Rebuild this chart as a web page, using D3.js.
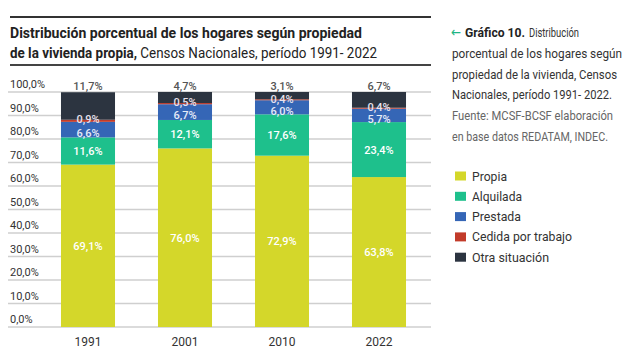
<!DOCTYPE html>
<html><head><meta charset="utf-8">
<script src="https://cdn.jsdelivr.net/npm/d3@7"></script>
<style>body{margin:0;background:#fff}svg{display:block}text{font-family:Roboto,"Noto Sans",sans-serif}</style>
</head><body><svg id="c" width="642" height="361"></svg>
<script>
const years = ["1991","2001","2010","2022"];
const seriesNames = ["Propia","Alquilada","Prestada","Cedida por trabajo","Otra situación"];
const propia = [69.1,76.0,72.9,63.8];
const alquilada = [11.6,12.1,17.6,23.4];
const prestada = [6.6,6.7,6.0,5.7];
const cedida = [0.9,0.5,0.4,0.4];
const otra = [11.7,4.7,3.1,6.7];
const yTicks = [0,10,20,30,40,50,60,70,80,90,100];
const colors = ["#d4d72a","#1ec08c","#3566b6","#c23b2a","#2c3440"];

const svg = d3.select("#c");
const x = d3.scaleBand().domain(years).range([39.5,427.5]).paddingInner(0.443).paddingOuter(0.2215);
const y = d3.scaleLinear().domain([0,100]).range([327,92]);
const fmt = v => d3.format(".1f")(v).replace(".",",") + "%";

// rules
svg.append("line").attr("x1",10).attr("x2",431).attr("y1",17).attr("y2",17).attr("stroke","#333").attr("stroke-width",2);
svg.append("line").attr("x1",10).attr("x2",431).attr("y1",65).attr("y2",65).attr("stroke","#444").attr("stroke-width",2);

// title
svg.append("text").attr("x",10).attr("y",38).attr("font-size",14).attr("font-weight",700).attr("fill","#222")
  .attr("textLength",352).attr("lengthAdjust","spacingAndGlyphs").text("Distribución porcentual de los hogares según propiedad");
const t2 = svg.append("text").attr("x",10).attr("y",58).attr("font-size",14).attr("fill","#222")
  .attr("textLength",367).attr("lengthAdjust","spacingAndGlyphs");
t2.append("tspan").attr("font-weight",700).text("de la vivienda propia,");
t2.append("tspan").text(" Censos Nacionales, período 1991- 2022");

// gridlines + y labels
const g = svg.append("g");
g.selectAll("line.grid").data(yTicks).join("line").attr("class","grid")
  .attr("x1",8).attr("x2",431).attr("y1",d=>y(d)).attr("y2",d=>y(d))
  .attr("stroke","#cfcfcf").attr("stroke-width",1.5);
g.selectAll("text.yl").data(yTicks).join("text").attr("class","yl")
  .attr("x",10).attr("y",d=>y(d)-4).attr("font-size",11).attr("fill","#333")
  .text(d=>d3.format(".1f")(d).replace(".",",")+"%");

// stacked data
const table = years.map((yr,i)=>({year:yr, s0:propia[i], s1:alquilada[i], s2:prestada[i], s3:cedida[i], s4:otra[i]}));
const keys = ["s0","s1","s2","s3","s4"];
const stack = d3.stack().keys(keys)(table);

svg.append("g").selectAll("g").data(stack).join("g").attr("fill",(d,i)=>colors[i])
  .selectAll("rect").data(d=>d).join("rect")
  .attr("x",d=>x(d.data.year)).attr("width",x.bandwidth())
  .attr("y",d=>y(Math.min(d[1],100))).attr("height",d=>y(d[0])-y(Math.min(d[1],100)));

// labels
const lab = svg.append("g").attr("text-anchor","middle").attr("font-size",11).attr("font-weight",500);
years.forEach((yr,i)=>{
  const cx = x(yr)+x.bandwidth()/2;
  const s = k => stack[k][i];
  const cTop = y(100)-6;
  const cCed = Math.max(y(s(3)[1]) - 1, cTop+12.5);
  const cPre = Math.max(y((s(2)[0]+s(2)[1])/2)+3, cCed+12);
  const items = [
    {v:propia[i], c:y((s(0)[0]+s(0)[1])/2), f:"#fff"},
    {v:alquilada[i], c:y((s(1)[0]+s(1)[1])/2), f:"#fff"},
    {v:prestada[i], c:cPre, f:"#e6ecf8"},
    {v:cedida[i], c:cCed, f:"#e8e2ee"},
    {v:otra[i], c:cTop, f:"#555"}
  ];
  items.forEach(it=>lab.append("text").attr("x",cx).attr("y",it.c+4).attr("fill",it.f).text(fmt(it.v)));
});

// x labels
svg.append("g").selectAll("text").data(years).join("text")
  .attr("x",d=>x(d)+x.bandwidth()/2).attr("y",346).attr("text-anchor","middle")
  .attr("font-size",12).attr("fill","#333").text(d=>d);

// right side caption
const cap = svg.append("g").attr("font-size",13);
cap.append("text").attr("x",451).attr("y",37).attr("fill","#1fb585").attr("font-size",14)
  .style("font-family","'DejaVu Sans'")
  .attr("textLength",10).attr("lengthAdjust","spacingAndGlyphs").text("←");
cap.append("text").attr("x",465).attr("y",37).attr("fill","#222").attr("font-weight",700)
  .attr("textLength",60).attr("lengthAdjust","spacingAndGlyphs").text("Gráfico 10.");
cap.append("text").attr("x",529).attr("y",37).attr("fill","#333")
  .attr("textLength",50).attr("lengthAdjust","spacingAndGlyphs").text("Distribución");
const capLines = [
  {t:"porcentual de los hogares según",c:"#333",w:170},
  {t:"propiedad de la vivienda, Censos",c:"#333",w:165},
  {t:"Nacionales, período 1991- 2022.",c:"#333",w:160},
  {t:"Fuente: MCSF-BCSF elaboración",c:"#666",w:161},
  {t:"en base datos REDATAM, INDEC.",c:"#666",w:156}
];
capLines.forEach((ln,i)=>{
  cap.append("text").attr("x",452).attr("y",37+(i+1)*20.8).attr("fill",ln.c)
    .attr("textLength",ln.w).attr("lengthAdjust","spacingAndGlyphs").text(ln.t);
});

// legend
const legW = [35,50,49,100,77];
const leg = svg.append("g");
seriesNames.forEach((n,i)=>{
  const yy = 176 + i*20.3;
  leg.append("rect").attr("x",455).attr("y",yy-4.5).attr("width",11).attr("height",9).attr("fill",colors[i]);
  leg.append("text").attr("x",472).attr("y",yy+4.5).attr("font-size",13).attr("fill","#333")
    .attr("textLength",legW[i]).attr("lengthAdjust","spacingAndGlyphs").text(n);
});
</script></body></html>
